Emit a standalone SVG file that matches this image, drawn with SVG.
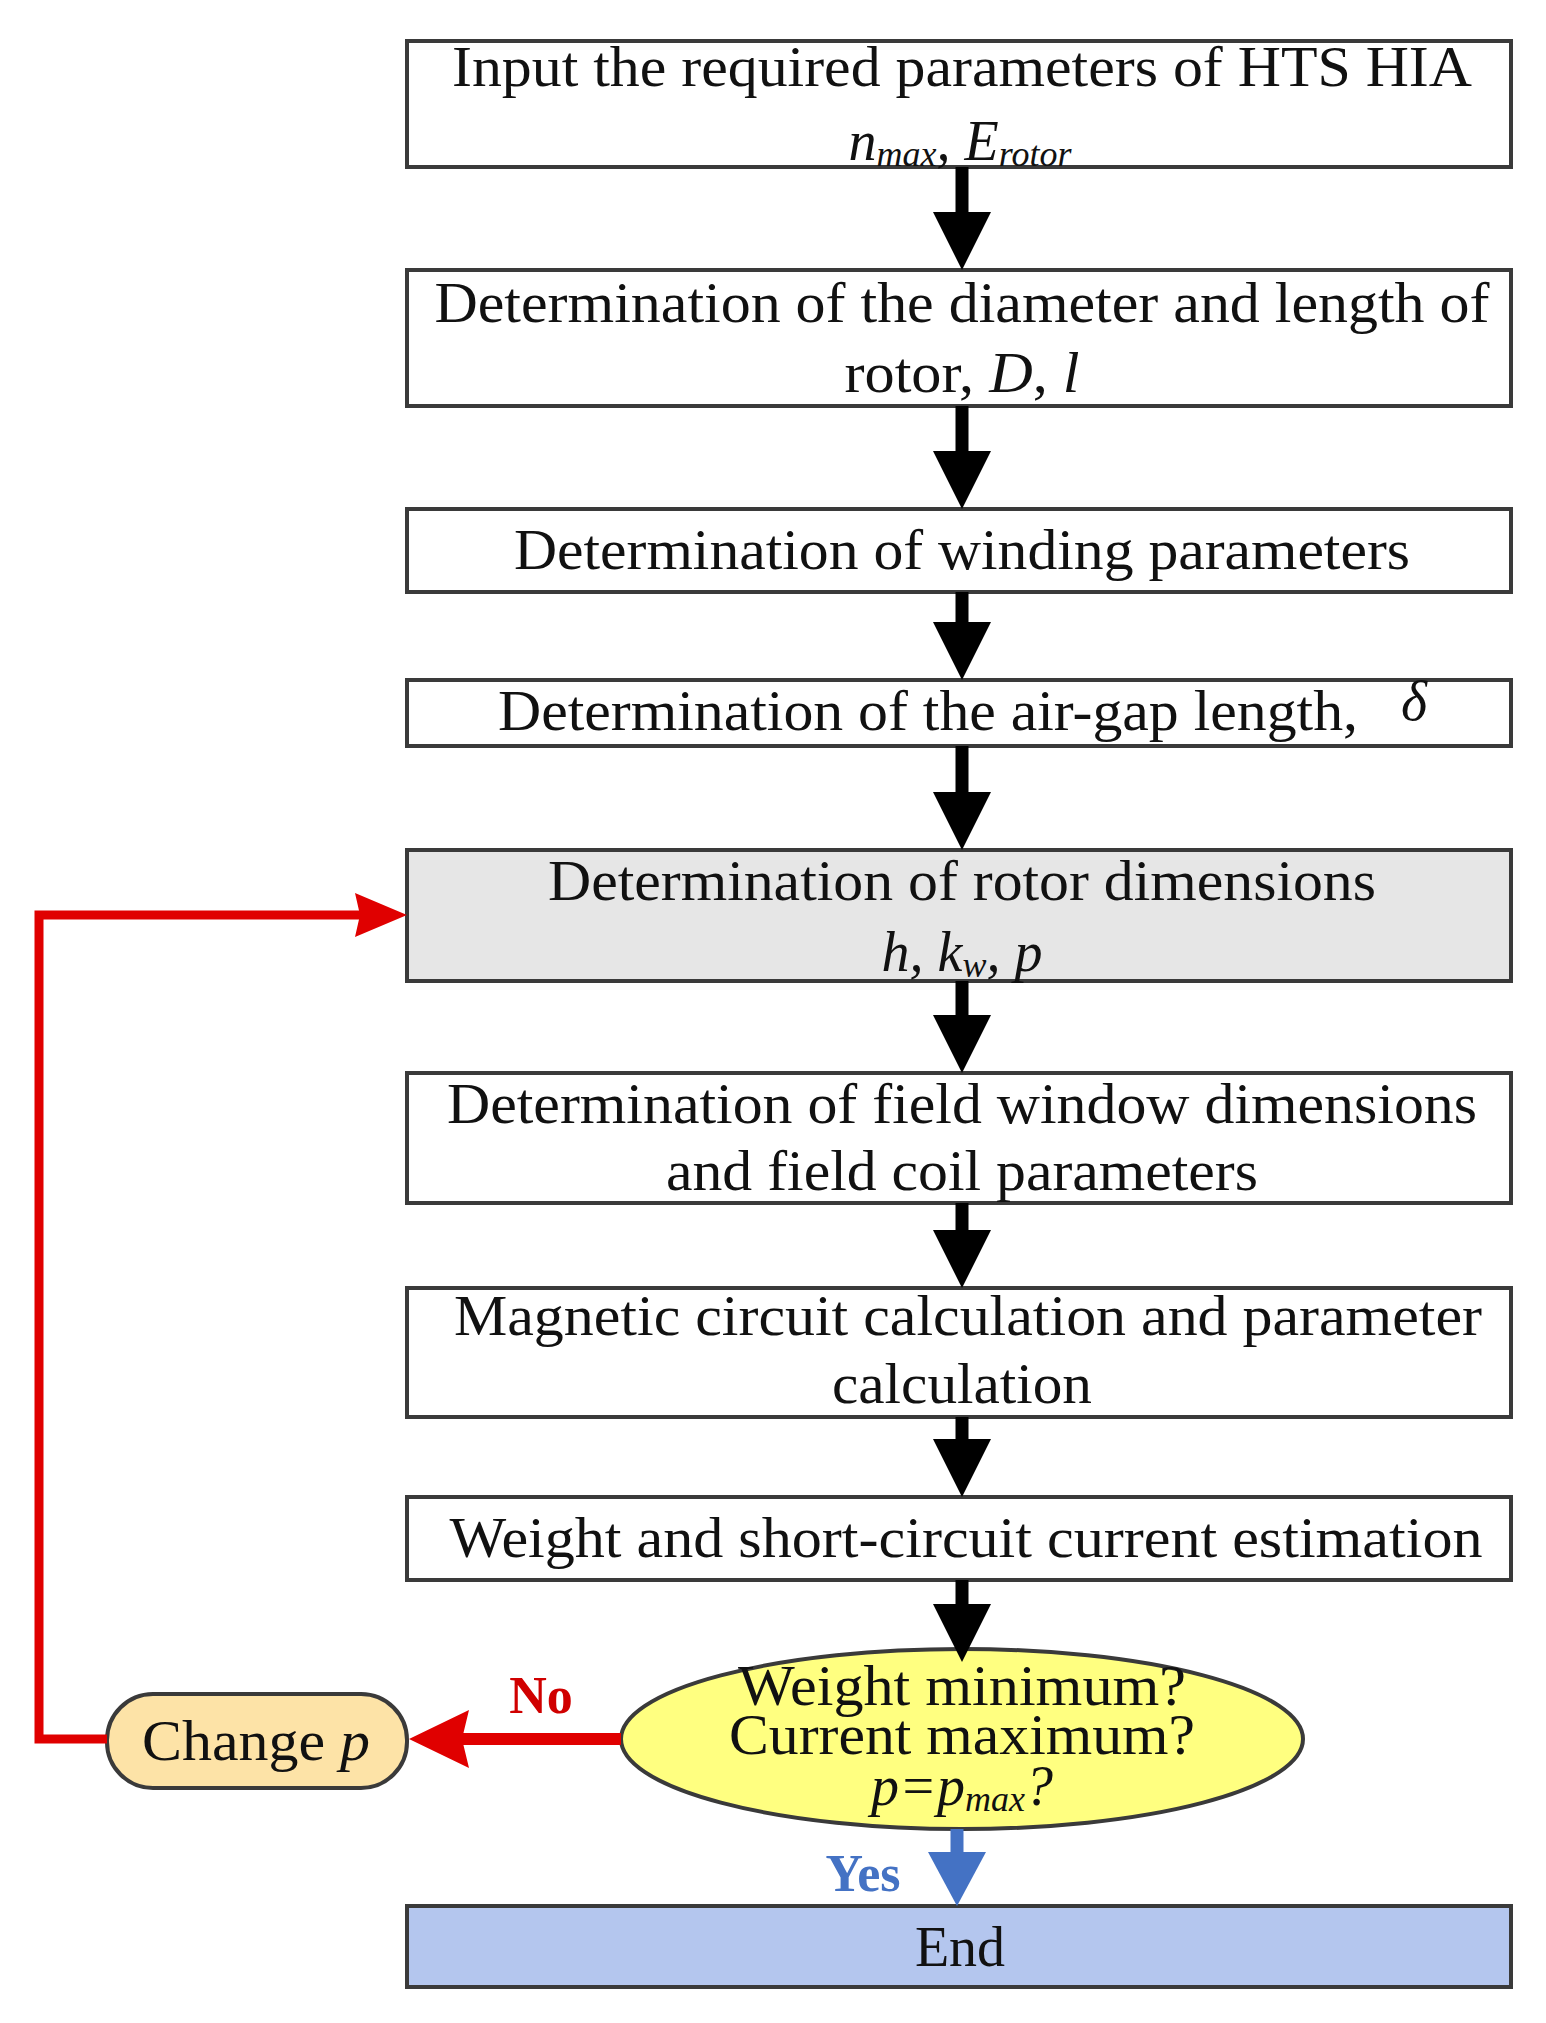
<svg xmlns="http://www.w3.org/2000/svg" width="1546" height="2023" viewBox="0 0 1546 2023">
<style>
.box{fill:#fff;stroke:#3a3a3a;stroke-width:4}
.t{font-family:"Liberation Serif","Times New Roman",serif;font-size:56px;fill:#111;text-anchor:middle}
.i{font-style:italic}
.sh{stroke:#000;stroke-width:13}
.hd{fill:#000}
</style>
<rect width="1546" height="2023" fill="#fff"/>
<g id="n1"><rect class="box" x="407" y="41" width="1104" height="126"/>
<text class="t" x="962" y="86" textLength="1020" lengthAdjust="spacingAndGlyphs">Input the required parameters of HTS HIA</text>
<text class="t i" x="960" y="160"><tspan>n</tspan><tspan font-size="36" dy="6">max</tspan><tspan dy="-6">, E</tspan><tspan font-size="36" dy="6">rotor</tspan></text></g>
<g id="n2"><rect class="box" x="407" y="270" width="1104" height="136"/>
<text class="t" x="962" y="322" textLength="1055" lengthAdjust="spacingAndGlyphs">Determination of the diameter and length of</text>
<text class="t" x="962" y="392" textLength="235" lengthAdjust="spacingAndGlyphs">rotor, <tspan class="i">D</tspan>, <tspan class="i">l</tspan></text></g>
<g id="n3"><rect class="box" x="407" y="509" width="1104" height="83"/>
<text class="t" x="962" y="569" textLength="896" lengthAdjust="spacingAndGlyphs">Determination of winding parameters</text></g>
<g id="n4"><rect class="box" x="407" y="680" width="1104" height="66"/>
<text class="t" x="928" y="730" textLength="860" lengthAdjust="spacingAndGlyphs">Determination of the air-gap length,</text>
<text class="t i" x="1414" y="720" font-size="46">δ</text></g>
<g id="n5"><rect class="box" x="407" y="850" width="1104" height="131" style="fill:#e6e6e6"/>
<text class="t" x="962" y="900" textLength="828" lengthAdjust="spacingAndGlyphs">Determination of rotor dimensions</text>
<text class="t i" x="962" y="971">h, k<tspan font-size="36" dy="6">w</tspan><tspan dy="-6">, p</tspan></text></g>
<g id="n6"><rect class="box" x="407" y="1073" width="1104" height="130"/>
<text class="t" x="962" y="1123" textLength="1030" lengthAdjust="spacingAndGlyphs">Determination of field window dimensions</text>
<text class="t" x="962" y="1190" textLength="592" lengthAdjust="spacingAndGlyphs">and field coil parameters</text></g>
<g id="n7"><rect class="box" x="407" y="1288" width="1104" height="129"/>
<text class="t" x="968" y="1335" textLength="1028" lengthAdjust="spacingAndGlyphs">Magnetic circuit calculation and parameter</text>
<text class="t" x="962" y="1403" textLength="260" lengthAdjust="spacingAndGlyphs">calculation</text></g>
<g id="n8"><rect class="box" x="407" y="1497" width="1104" height="83"/>
<text class="t" x="966" y="1557" textLength="1033" lengthAdjust="spacingAndGlyphs">Weight and short-circuit current estimation</text></g>
<g id="n9"><ellipse cx="962" cy="1739" rx="341" ry="90" fill="#ffff80" stroke="#3a3a3a" stroke-width="4"/>
<text class="t" x="962" y="1705" textLength="448" lengthAdjust="spacingAndGlyphs">Weight minimum?</text>
<text class="t" x="962" y="1754" textLength="466" lengthAdjust="spacingAndGlyphs">Current maximum?</text>
<text class="t i" x="962" y="1805">p=p<tspan font-size="36" dy="6">max</tspan><tspan dy="-6">?</tspan></text></g>
<g id="n10"><rect x="107" y="1694" width="300" height="94" rx="46" fill="#fde3a7" stroke="#3a3a3a" stroke-width="4"/>
<text class="t" x="256" y="1760" textLength="228" lengthAdjust="spacingAndGlyphs">Change <tspan class="i">p</tspan></text></g>
<g id="n11"><rect x="407" y="1906" width="1104" height="81" fill="#b4c6ee" stroke="#3a3a3a" stroke-width="4"/>
<text class="t" x="960" y="1966">End</text></g>
<g id="connectors">
<line class="sh" x1="962" y1="167" x2="962" y2="220"/><polygon class="hd" points="933,212 991,212 962,270"/>
<line class="sh" x1="962" y1="406" x2="962" y2="459"/><polygon class="hd" points="933,451 991,451 962,509"/>
<line class="sh" x1="962" y1="592" x2="962" y2="630"/><polygon class="hd" points="933,622 991,622 962,680"/>
<line class="sh" x1="962" y1="746" x2="962" y2="800"/><polygon class="hd" points="933,792 991,792 962,850"/>
<line class="sh" x1="962" y1="981" x2="962" y2="1023"/><polygon class="hd" points="933,1015 991,1015 962,1073"/>
<line class="sh" x1="962" y1="1203" x2="962" y2="1238"/><polygon class="hd" points="933,1230 991,1230 962,1288"/>
<line class="sh" x1="962" y1="1417" x2="962" y2="1447"/><polygon class="hd" points="933,1439 991,1439 962,1497"/>
<line class="sh" x1="962" y1="1580" x2="962" y2="1612"/><polygon class="hd" points="933,1604 991,1604 962,1662"/>
<line x1="957" y1="1829" x2="957" y2="1860" stroke="#4472c4" stroke-width="13"/><polygon fill="#4472c4" points="928,1852 986,1852 957,1906"/>
<line x1="621" y1="1739" x2="455" y2="1739" stroke="#e00000" stroke-width="12"/><polygon fill="#e00000" points="409,1739 469,1710 462,1739 469,1768"/>
<polyline points="107,1739 39,1739 39,915 360,915" fill="none" stroke="#e00000" stroke-width="9"/><polygon fill="#e00000" points="407,915 355,893 360,915 355,937"/>
<text x="541" y="1713" font-family="Liberation Serif,serif" font-weight="bold" font-size="52" fill="#d00000" text-anchor="middle">No</text>
<text x="863" y="1891" font-family="Liberation Serif,serif" font-weight="bold" font-size="52" fill="#4472c4" text-anchor="middle">Yes</text>
</g>
</svg>
